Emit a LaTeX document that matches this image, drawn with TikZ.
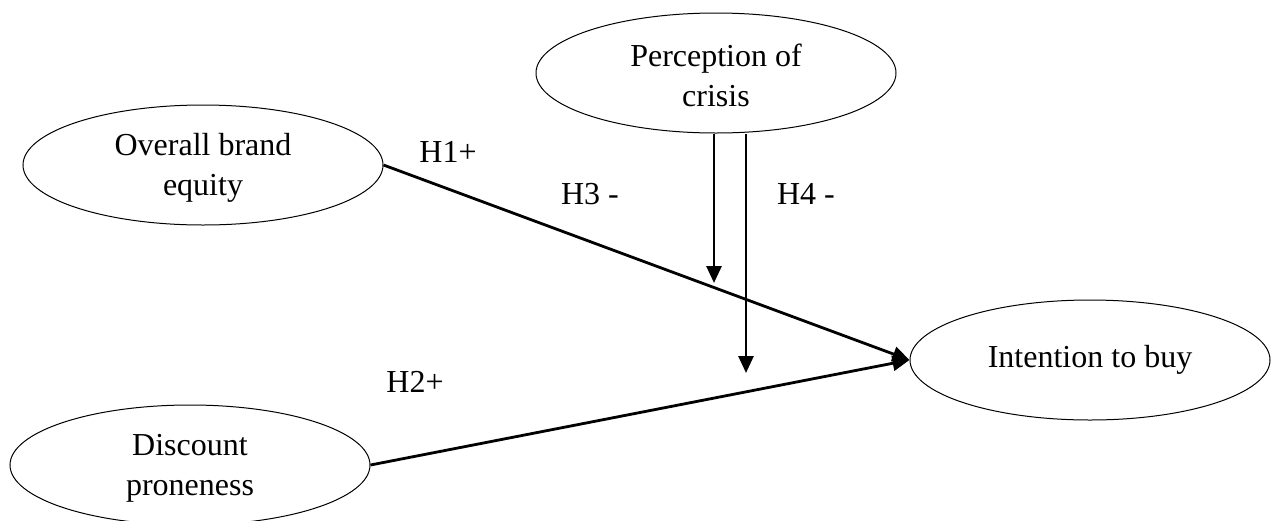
\documentclass[tikz,border=0pt]{standalone}
\usepackage{fontspec}
\setmainfont{Liberation Serif}
\usetikzlibrary{shapes.geometric,arrows.meta}
\begin{document}
\begin{tikzpicture}[x=1pt,y=-1pt,
  construct/.style={draw,ellipse,line width=1pt,minimum width=360pt,minimum height=120pt,inner sep=0pt},
  ctext/.style={align=center,inner sep=0pt,font=\fontsize{32}{40}\selectfont},
  path/.style={line width=2.8pt,-{Triangle[length=17pt,width=15pt]}},
  lbl/.style={font=\fontsize{32}{38}\selectfont,inner sep=0pt}]
\useasboundingbox (0,0) rectangle (1271,520);
\node[construct] (obe) at (203,165) {};
\node[ctext] (obet) at (203,168) {Overall brand\\equity};
\node[construct] (poc) at (716,73) {};
\node[ctext] (poct) at (716,75) {Perception of\\crisis};
\node[construct] (itb) at (1090,360) {};
\node[ctext] (itbt) at (1090,360) {Intention to buy};
\node[construct] (dp) at (190,465) {};
\node[ctext] (dpt) at (190,468) {Discount\\proneness};
\draw[path] (obe.east) -- (itb.west);
\draw[path] (dp.east) -- (itb.west);
\coordinate (h3e) at (714,283);
\coordinate (h4e) at (746,373);
\draw[path] (poc.south -| h3e) -- (h3e);
\draw[path] (poc.south -| h4e) -- (h4e);
\node[lbl] (l1) at (448,152) {H1+};
\node[lbl] (l3) at (590,194) {H3 -};
\node[lbl] (l4) at (806,194) {H4 -};
\node[lbl] (l2) at (415,382) {H2+};
\end{tikzpicture}
\end{document}
